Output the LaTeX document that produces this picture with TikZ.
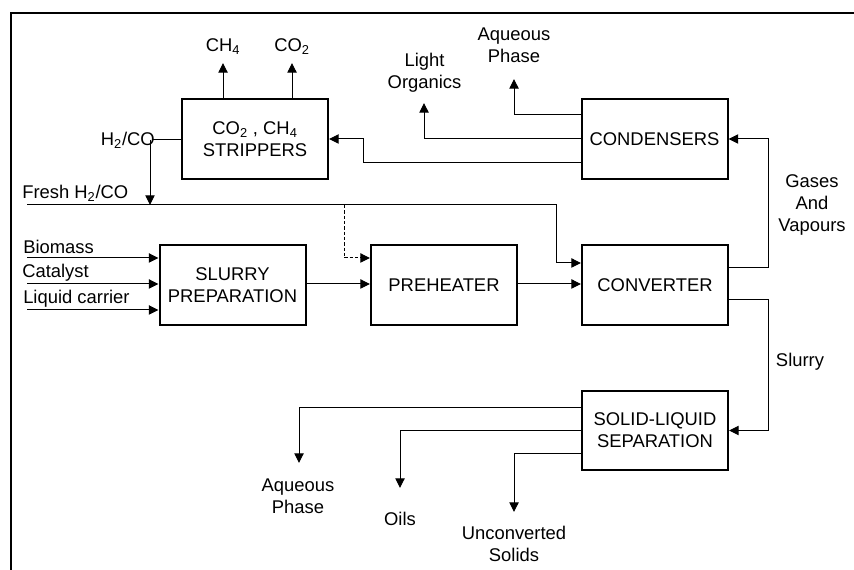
\documentclass[tikz,border=0pt]{standalone}
\usepackage{fontspec}
\setmainfont{Liberation Sans}
\usetikzlibrary{arrows.meta}
\begin{document}
\begin{tikzpicture}[x=0.75pt,y=-0.75pt,
  font=\fontsize{13.8}{16.4}\selectfont,
  unit/.style={draw,line width=1.5pt,minimum width=109.5pt,minimum height=60pt,align=center,inner sep=0pt},
  lbl/.style={align=center,inner sep=0pt},
  conn/.style={line width=0.75pt},
  arr/.style={conn,-{Triangle[length=7.2pt,width=7pt]}},
  frame/.style={line width=1.6pt}]
\useasboundingbox (0,0) rectangle (854,570);
% frame
\coordinate (ftl) at (11,13);
\coordinate (ftr) at (854,13);
\coordinate (fbl) at (11,570);
\draw[frame] (fbl) -- (ftl) -- (ftr);

% units
\node[unit] (strip) at (255,139) {CO\textsubscript{2} , CH\textsubscript{4}\\STRIPPERS};
\node[unit] (cond) at (654.5,139) {CONDENSERS};
\node[unit] (slurry) at (232.5,285) {SLURRY\\PREPARATION};
\node[unit] (pre) at (444,285) {PREHEATER};
\node[unit] (conv) at (655,285) {CONVERTER};
\node[unit,minimum height=59pt] (sep) at (655,430.5) {SOLID-LIQUID\\SEPARATION};

% labels
\node[lbl] (ch4) at (223,47) {CH\textsubscript{4}};
\node[lbl] (co2) at (292,47) {CO\textsubscript{2}};
\node[lbl,anchor=east] (h2co) at (155,140) {H\textsubscript{2}/CO};
\node[lbl,anchor=west] (fresh) at (22,193) {Fresh H\textsubscript{2}/CO};
\node[lbl] (lorg) at (424.5,72.5) {Light\\Organics};
\node[lbl] (aqtop) at (514,45.5) {Aqueous\\Phase};
\node[lbl] (gases) at (812,205) {Gases\\And\\Vapours};
\node[lbl] (slurrylbl) at (800,362) {Slurry};
\node[lbl,anchor=west] (biomass) at (23,247) {Biomass};
\node[lbl,anchor=west] (catalyst) at (22,273) {Catalyst};
\node[lbl,anchor=west] (liquid) at (23,299) {Liquid carrier};
\node[lbl] (aqbot) at (298,496) {Aqueous\\Phase};
\node[lbl] (oils) at (400,519) {Oils};
\node[lbl] (uncon) at (514,543.5) {Unconverted\\Solids};

% coordinates
\coordinate (ch4tip) at (223,63);
\coordinate (co2tip) at (292,63);
\coordinate (j1) at (150,140);
\coordinate (j1end) at (152,140);
\coordinate (fstart) at (27,205);
\coordinate (fbend) at (556,205);
\coordinate (dstart) at (344,205);
\coordinate (aqtip) at (514,79);
\coordinate (lotip) at (424,103);
\coordinate (rbend) at (363,163);
\coordinate (aqbtip) at (299,463);
\coordinate (oiltip) at (400,488);
\coordinate (unctip) at (514,512);
\coordinate (bin) at (27,258);
\coordinate (cin) at (27,284);
\coordinate (lin) at (27,310);

% stripper outputs
\draw[arr] (strip.north -| ch4tip) -- (ch4tip);
\draw[arr] (strip.north -| co2tip) -- (co2tip);
% H2/CO recycle
\draw[conn] (strip.west |- j1end) -- (j1end);
\draw[arr] (j1) -- (j1 |- fstart);
% fresh H2/CO
\draw[arr] (fstart) -- (fbend) |- ([yshift=16.5pt]conv.west);
\draw[arr,dashed,dash pattern=on 2.5pt off 1.5pt] (dstart) |- ([yshift=20.25pt]pre.west);
% inputs
\draw[arr] (bin) -- (bin -| slurry.west);
\draw[arr] (cin) -- (cin -| slurry.west);
\draw[arr] (lin) -- (lin -| slurry.west);
% main line
\draw[arr] ([yshift=0.75pt]slurry.east) -- ([yshift=0.75pt]pre.west);
\draw[arr] ([yshift=0.75pt]pre.east) -- ([yshift=0.75pt]conv.west);
% converter outputs
\draw[arr] ([yshift=12.75pt]conv.east) -- ++(39,0) |- (cond.east);
\draw[arr] ([yshift=-11.25pt]conv.east) -- ++(39,0) |- (sep.east);
% condenser outputs
\draw[arr] ([yshift=18pt]cond.west) -| (aqtip);
\draw[arr] (cond.west) -| (lotip);
\draw[arr] ([yshift=-18pt]cond.west) -- (rbend) |- (strip.east);
% separation outputs
\draw[arr] ([yshift=17.6pt]sep.west) -| (aqbtip);
\draw[arr] (sep.west) -| (oiltip);
\draw[arr] ([yshift=-17.6pt]sep.west) -| (unctip);
\end{tikzpicture}
\end{document}
